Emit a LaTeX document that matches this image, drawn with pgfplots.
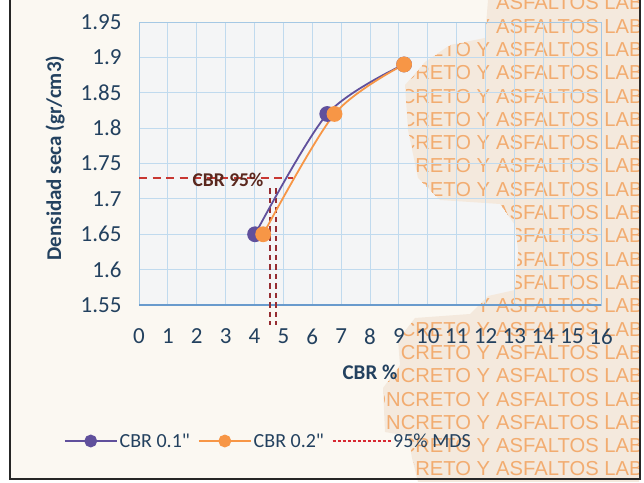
\documentclass[border=0pt]{standalone}
\usepackage{pgfplots}
\pgfplotsset{compat=1.18}
\usepackage{fontspec}
\setmainfont{Carlito}
\newfontfamily\chartfont{Carlito}
\newfontfamily\wmfont{Liberation Sans}

\definecolor{txt}{RGB}{35,65,95}
\definecolor{paper}{RGB}{251,248,242}
\definecolor{plotbg}{RGB}{244,245,246}
\definecolor{gridc}{RGB}{192,218,238}
\definecolor{axc}{RGB}{165,200,228}
\definecolor{axbottom}{RGB}{105,155,205}
\definecolor{cbrpurple}{RGB}{96,80,156}
\definecolor{cbrorange}{RGB}{247,150,70}
\definecolor{mdsred}{RGB}{200,55,50}
\definecolor{mdslegend}{RGB}{215,40,50}
\definecolor{mdsdark}{RGB}{150,45,50}
\definecolor{notebrown}{RGB}{90,40,30}
\definecolor{wmtint}{RGB}{244,233,221}
\definecolor{wmtext}{RGB}{242,172,112}

\begin{document}
\begin{tikzpicture}[x=1pt,y=1pt]
% paper sheet
\fill[white] (0,0) rectangle (644,482);
\fill[paper] (10,3) rectangle (640,482);
% plot area
\fill[plotbg] (139,177) rectangle (601,460);
% laboratory stamp
\begin{scope}
  \clip (488,482) -- (485,444) -- (450,437) -- (425,420) -- (405,397) -- (408,352)
        -- (418,304) -- (440,282) -- (500,278) -- (515,257) -- (518,232) -- (515,192)
        -- (488,186) -- (470,168) -- (415,164) -- (398,142) -- (400,117) -- (383,94)
        -- (385,50) -- (408,46) -- (412,24) -- (418,0) -- (639,0) -- (639,482) -- cycle;
  \fill[wmtint] (0,0) rectangle (644,482);
  \foreach \k in {0,...,20} {
    \pgfmathsetmacro\yy{482-(3+23.3*\k+6.9)}
    \node[anchor=base east, inner sep=0pt, text=wmtext, font=\wmfont\fontsize{20.2}{22}\selectfont]
      at (496,\yy) {CONCRETO Y\kern0.278em};
    \node[anchor=base west, inner sep=0pt, text=wmtext, font=\wmfont\fontsize{20.2}{22}\selectfont]
      at (496,\yy) {ASFALTOS LAB};
  }
\end{scope}

\begin{axis}[
  at={(139pt,177pt)}, anchor=south west,
  scale only axis, width=462pt, height=283pt,
  xmin=0, xmax=16, ymin=1.55, ymax=1.95,
  xtick={0,1,...,16},
  ytick={1.55,1.6,1.65,1.7,1.75,1.8,1.85,1.9,1.95},
  yticklabels={1.55,1.6,1.65,1.7,1.75,1.8,1.85,1.9,1.95},
  major tick length=0pt,
  grid=major,
  grid style={draw=gridc, line width=0.9pt},
  axis line style={draw=axc, line width=1pt},
  /pgf/number format/assume math mode=true,
  tick label style={font=\chartfont\fontsize{23}{26}\selectfont, text=txt},
  xticklabel style={yshift=-20pt},
  yticklabel style={xshift=-14pt},
  xlabel={CBR \%},
  ylabel={Densidad seca (gr/cm3)},
  every axis x label/.style={at={(rel axis cs:0.5,-0.2367)}, anchor=center},
  every axis y label/.style={at={(rel axis cs:-0.1818,0.519)}, anchor=center, rotate=90},
  label style={font=\chartfont\bfseries\fontsize{21}{24}\selectfont, text=txt},
  clip=false,
  legend columns=3,
  legend cell align=left,
  legend style={at={(rel axis cs:0.28,-0.4806)}, anchor=center,
    draw=none, fill=none, font=\chartfont\fontsize{20}{22}\selectfont, text=txt,
    /tikz/every even column/.append style={column sep=6pt}},
  legend image code/.code={
    \draw[#1, mark=none] (0pt,0pt) -- (52pt,0pt);
    \draw[#1, mark size=5.5pt] plot coordinates {(26pt,0pt)};
  },
]
% bottom axis line
\draw[axbottom, line width=1.6pt] (rel axis cs:0,0) -- (rel axis cs:1,0);

% 95% MDS reference lines
\addplot[mdsdark, line width=1.9pt, dash pattern=on 5.5pt off 4pt, forget plot]
  coordinates {(4.53,1.715) (4.53,1.522)};
\addplot[mdsdark, line width=1.9pt, dash pattern=on 5.5pt off 4pt, forget plot]
  coordinates {(4.74,1.715) (4.74,1.522)};

% CBR curves
\addplot[cbrpurple, line width=1.8pt, smooth, mark=*, mark size=7pt,
  mark options={solid, fill=cbrpurple, draw=cbrpurple}]
  coordinates {(4.02,1.65) (6.52,1.82) (9.18,1.89)};
\addlegendentry{CBR 0.1"\hspace{13pt}}
\addplot[cbrorange, line width=1.8pt, smooth, mark=*, mark size=7pt,
  mark options={solid, fill=cbrorange, draw=cbrorange}]
  coordinates {(4.3,1.65) (6.77,1.82) (9.18,1.89)};
\addlegendentry{CBR 0.2"}
\addplot[mdsred, line width=1.8pt, dash pattern=on 8pt off 5.5pt,
  legend image code/.code={
    \draw[mdslegend, line width=1.2pt, dash pattern=on 3.5pt off 1.5pt] (0pt,0pt) -- (58pt,0pt);
  }]
  coordinates {(0,1.73) (5.32,1.73)};
\addlegendentry{95\% MDS}

\node[font=\chartfont\bfseries\fontsize{19.5}{22}\selectfont, text=notebrown]
  at (axis cs:3.08,1.727) {CBR 95\%};
\end{axis}

% outer frame
\draw[line width=2pt, black!85] (10,482) -- (10,3) -- (640,3) -- (640,482);
\pgfresetboundingbox
\path (0,0) rectangle (644,482);
\end{tikzpicture}
\end{document}
